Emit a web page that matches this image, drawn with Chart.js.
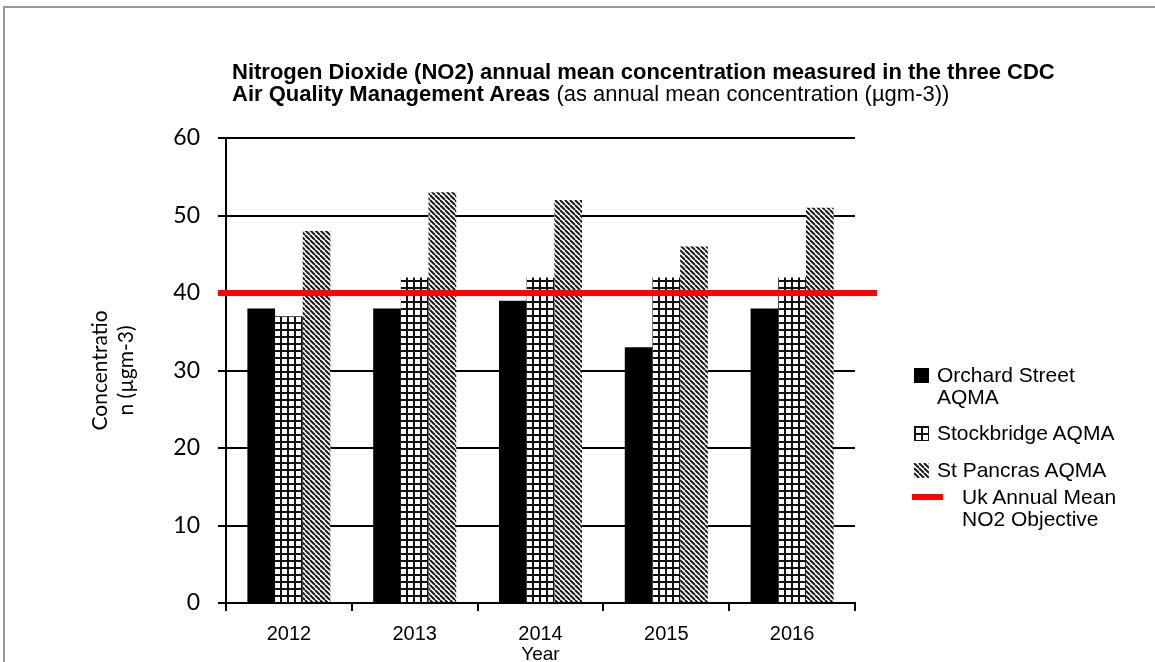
<!DOCTYPE html>
<html>
<head>
<meta charset="utf-8">
<script src="https://cdn.jsdelivr.net/npm/chart.js"></script>
<style>
  html, body { margin: 0; padding: 0; background: #fff; overflow: hidden; }
  #frame { position: absolute; left: 3px; top: 6px; width: 1200px; height: 700px; border: 2px solid #999; box-sizing: border-box; }
  #wrap { position: absolute; left: 0; top: 0; width: 1155px; height: 666px; }
  #title { position: absolute; left: 232px; top: 61px; font: 22px/22px "Liberation Sans", Arial, sans-serif; color: #000; white-space: nowrap; }
  #title b { font-weight: bold; }
  #legend { position: absolute; left: 912px; top: 364px; font: 21px/22px "Liberation Sans", Arial, sans-serif; color: #000; }
  .item { position: absolute; left: 0; white-space: nowrap; }
  .item canvas { position: absolute; left: 2px; }
  .item span { position: absolute; left: 25px; }
</style>
</head>
<body>
<div id="frame"></div>
<div id="wrap"><canvas id="myChart" width="1155" height="666"></canvas></div>
<div id="title"><b>Nitrogen Dioxide (NO2) annual mean concentration measured in the three CDC</b><br><b>Air Quality Management Areas</b> (as annual mean concentration (µgm-3))</div>
<div id="legend"></div>
<script>
'use strict';

// Data

let years = ['2012', '2013', '2014', '2015', '2016'];
let orchardStreet = [38, 38, 39, 33, 38];
let stockbridge = [37, 42, 42, 42, 42];
let stPancras = [48, 53, 52, 46, 51];
let objectiveValue = 40;
let yTicks = [0, 10, 20, 30, 40, 50, 60];

// Patterns

function gridPattern() {
  let c = document.createElement('canvas');
  c.width = 7;
  c.height = 7;
  let g = c.getContext('2d');
  g.fillStyle = '#fff';
  g.fillRect(0, 0, 7, 7);
  g.fillStyle = '#111';
  g.fillRect(0, 0, 7, 2);
  g.fillRect(0, 0, 2, 7);
  return g.createPattern(c, 'repeat');
}

function hatchPattern() {
  let s = 5;
  let c = document.createElement('canvas');
  c.width = s;
  c.height = s;
  let g = c.getContext('2d');
  g.fillStyle = '#fff';
  g.fillRect(0, 0, s, s);
  g.strokeStyle = '#1a1a1a';
  g.lineWidth = 2;
  for (let k = -s; k <= s; k += s) {
    g.beginPath();
    g.moveTo(k, 0);
    g.lineTo(k + s, s);
    g.stroke();
  }
  return g.createPattern(c, 'repeat');
}

// Red objective line, placed with the y scale

const objectiveLine = {
  id: 'objectiveLine',
  afterDatasetsDraw(chart) {
    let ctx = chart.ctx;
    let y = chart.scales.y.getPixelForValue(objectiveValue);
    ctx.save();
    ctx.strokeStyle = '#ff0000';
    ctx.lineWidth = 6;
    ctx.beginPath();
    ctx.moveTo(chart.chartArea.left - 8, y);
    ctx.lineTo(chart.chartArea.right + 22, y);
    ctx.stroke();
    ctx.restore();
  }
};

const ctx = document.getElementById('myChart').getContext('2d');
const myChart = new Chart(ctx, {
  type: 'bar',
  data: {
    labels: years,
    datasets: [{
      label: 'Orchard Street\nAQMA',
      data: orchardStreet,
      backgroundColor: '#000'
    },
    {
      label: 'Stockbridge AQMA',
      data: stockbridge,
      backgroundColor: gridPattern()
    },
    {
      label: 'St Pancras AQMA',
      data: stPancras,
      backgroundColor: hatchPattern()
    }]
  },
  options: {
    responsive: false,
    animation: false,
    layout: { padding: { left: 88, right: 300, top: 138, bottom: 0 } },
    datasets: { bar: { barPercentage: 1, categoryPercentage: 0.66 } },
    plugins: {
      legend: { display: false },
      tooltip: { enabled: false }
    },
    scales: {
      x: {
        afterFit: function (scale) { scale.height = 63; },
        grid: { drawOnChartArea: false, color: '#000', lineWidth: 2, tickLength: 8 },
        border: { color: '#000', width: 2 },
        ticks: { color: '#000', padding: 11, font: { family: 'Liberation Sans', size: 20 } },
        title: { display: true, text: 'Year', color: '#000', padding: 0, font: { family: 'Liberation Sans', size: 19 } }
      },
      y: {
        min: 0,
        max: 60,
        afterFit: function (scale) { scale.width = 138; },
        afterBuildTicks: function (scale) { scale.ticks = yTicks.map(v => ({ value: v })); },
        grid: { color: '#000', lineWidth: 2, tickLength: 8 },
        border: { color: '#000', width: 2 },
        ticks: { color: '#000', padding: 18, font: { family: 'Lato', size: 23 } },
        title: { display: true, text: ['Concentratio', 'n (µgm-3)'], color: '#000', padding: 0, font: { family: 'Lato', size: 21 } }
      }
    }
  },
  plugins: [objectiveLine]
});

// HTML legend

let legend = document.getElementById('legend');
let rows = [0, 58, 95];
myChart.data.datasets.forEach(function (ds, i) {
  let item = document.createElement('div');
  item.className = 'item';
  item.style.top = rows[i] + 'px';
  let sw = document.createElement('canvas');
  sw.width = 15;
  sw.height = 15;
  sw.style.top = '4px';
  let g = sw.getContext('2d');
  g.fillStyle = ds.backgroundColor;
  g.fillRect(0, 0, 15, 15);
  let span = document.createElement('span');
  span.innerHTML = ds.label.replace('\n', '<br>');
  item.appendChild(sw);
  item.appendChild(span);
  legend.appendChild(item);
});

let redItem = document.createElement('div');
redItem.className = 'item';
redItem.style.top = '122px';
redItem.innerHTML = '<div style="position:absolute;left:0;top:8px;width:31px;height:6px;background:#ff0000"></div>' +
  '<span style="left:50px">Uk Annual Mean<br>NO2 Objective</span>';
legend.appendChild(redItem);
</script>
</body>
</html>
